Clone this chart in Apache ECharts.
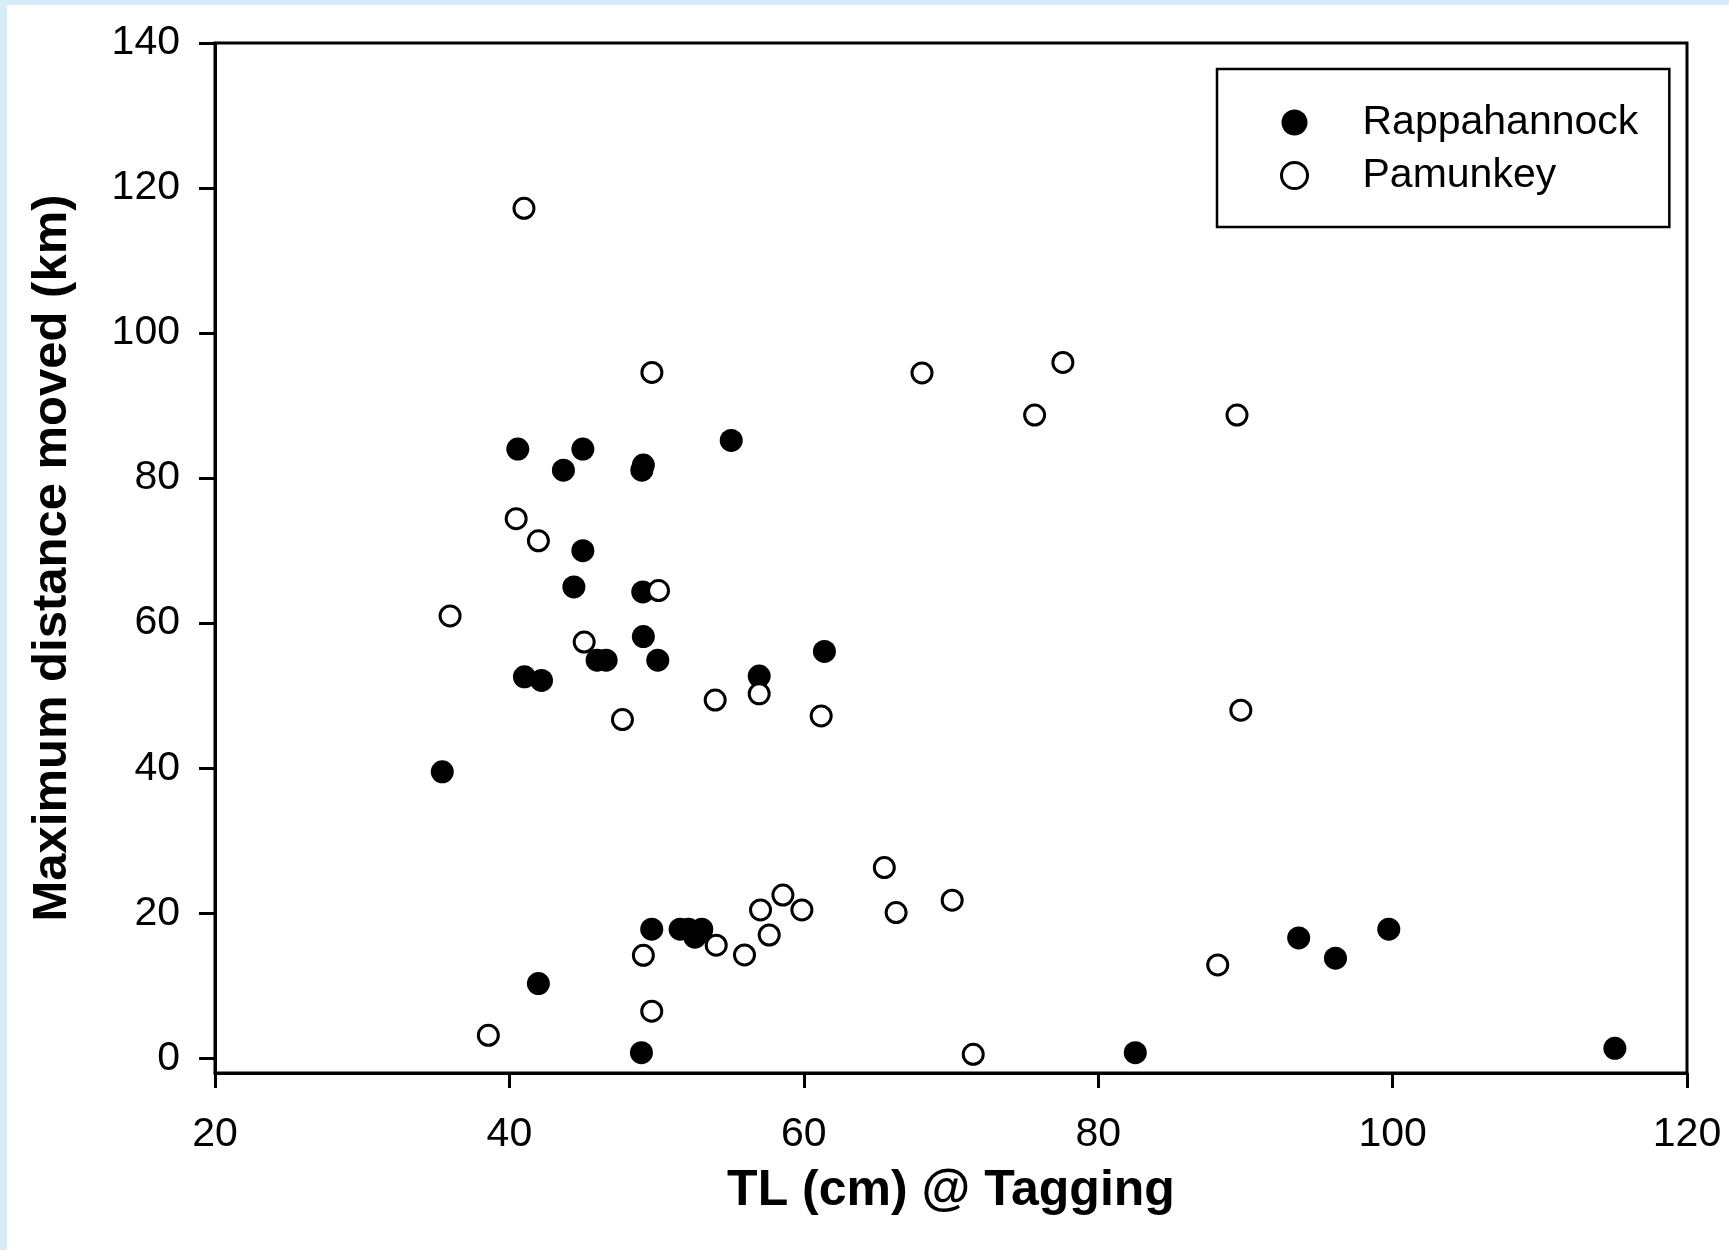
<!DOCTYPE html>
<html>
<head>
<meta charset="utf-8">
<script src="https://cdn.jsdelivr.net/npm/echarts@6/dist/echarts.min.js"></script>
<style>
html,body{margin:0;padding:0;background:#d6edf8;width:1729px;height:1250px;overflow:hidden}
#chart{position:absolute;left:7px;top:5px;width:1722px;height:1245px;background:#fff}
</style>
</head>
<body>
<div id="chart"></div>
<script>
// ---- data (TL cm, max distance km) ----
const seriesNames = ['Rappahannock', 'Pamunkey'];

const rappahannock = [
  [35.44, 39.5], [40.57, 84.0], [43.67, 81.1], [44.99, 84.0],
  [49.0, 81.1], [49.1, 81.8], [55.07, 85.2], [44.99, 70.0],
  [44.38, 65.0], [49.06, 64.3], [49.1, 58.15], [41.02, 52.6],
  [42.18, 52.1], [45.96, 54.9], [46.57, 54.9], [50.08, 54.9],
  [56.97, 52.7], [61.4, 56.1], [41.97, 10.3], [48.97, 0.77],
  [49.67, 17.8], [51.6, 17.8], [52.17, 17.8], [52.6, 16.7],
  [53.07, 17.8], [82.52, 0.77], [93.62, 16.6], [96.12, 13.8],
  [99.74, 17.8], [115.1, 1.38]
];

const pamunkey = [
  [40.99, 117.2], [49.68, 94.57], [68.03, 94.5], [77.6, 95.95],
  [75.68, 88.7], [89.43, 88.7], [89.69, 48.0], [40.46, 74.4],
  [41.97, 71.35], [35.97, 61.0], [50.13, 64.5], [45.08, 57.4],
  [47.68, 46.7], [53.98, 49.4], [56.97, 50.25], [61.18, 47.2],
  [38.57, 3.17], [49.67, 6.5], [49.1, 14.2], [54.05, 15.6],
  [55.97, 14.25], [57.06, 20.45], [57.65, 17.0], [58.58, 22.5],
  [59.87, 20.45], [65.47, 26.3], [66.27, 20.1], [70.08, 21.8],
  [71.51, 0.55], [88.12, 12.87]
];

const yTicks = [0, 20, 40, 60, 80, 100, 120, 140];
const xTitle = 'TL (cm) @ Tagging';
const yTitle = 'Maximum distance moved (km)';

// ---- chart ----
const FONT = "'Liberation Sans', Arial, Helvetica, sans-serif";
const chart = echarts.init(document.getElementById('chart'), null, {renderer: 'canvas'});

const option = {
  animation: false,
  backgroundColor: '#ffffff',
  grid: {
    left: 208, top: 38, right: 42, bottom: 177,
    show: true, borderColor: '#000', borderWidth: 3,
    backgroundColor: 'transparent',
    containLabel: false, outerBoundsMode: 'none'
  },
  legend: {
    orient: 'vertical',
    left: 1210, top: 64,
    padding: [33, 31, 31, 63],
    itemWidth: 26, itemHeight: 26, itemGap: 12,
    borderColor: '#000', borderWidth: 2.5,
    backgroundColor: '#fff',
    textStyle: {fontSize: 41, color: '#000', fontFamily: FONT, padding: [0, 0, 0, 50]},
    data: [
      {name: seriesNames[0], icon: 'circle', itemStyle: {color: '#000', borderWidth: 0}},
      {name: seriesNames[1], icon: 'circle', itemStyle: {color: '#fff', borderColor: '#000', borderWidth: 3}}
    ]
  },
  xAxis: {
    type: 'value', min: 20, max: 120, interval: 20,
    axisLine: {show: true, onZero: false, lineStyle: {color: '#000', width: 3}},
    axisTick: {show: true, inside: false, length: 15, lineStyle: {color: '#000', width: 3}},
    axisLabel: {fontSize: 41, color: '#000', margin: 41, fontFamily: FONT},
    splitLine: {show: false},
    name: xTitle, nameLocation: 'middle', nameGap: 93,
    nameTextStyle: {fontSize: 50, fontWeight: 'bold', color: '#000', fontFamily: FONT}
  },
  yAxis: {
    type: 'value', min: -2.03, max: 140,
    axisLine: {show: true, onZero: false, lineStyle: {color: '#000', width: 3}},
    axisTick: {show: true, inside: false, length: 16, customValues: yTicks, lineStyle: {color: '#000', width: 3}},
    axisLabel: {fontSize: 41, color: '#000', margin: 35, customValues: yTicks, fontFamily: FONT},
    splitLine: {show: false},
    name: yTitle, nameLocation: 'middle', nameGap: 138, nameRotate: 90,
    nameTextStyle: {fontSize: 49, fontWeight: 'bold', color: '#000', fontFamily: FONT}
  },
  series: [
    {
      name: seriesNames[0], type: 'scatter', symbol: 'circle', symbolSize: 23,
      itemStyle: {color: '#000', opacity: 1},
      data: rappahannock, z: 2
    },
    {
      name: seriesNames[1], type: 'scatter', symbol: 'circle', symbolSize: 20,
      itemStyle: {color: '#fff', borderColor: '#000', borderWidth: 3, opacity: 1},
      data: pamunkey, z: 3
    }
  ]
};
chart.setOption(option);
</script>
</body>
</html>
